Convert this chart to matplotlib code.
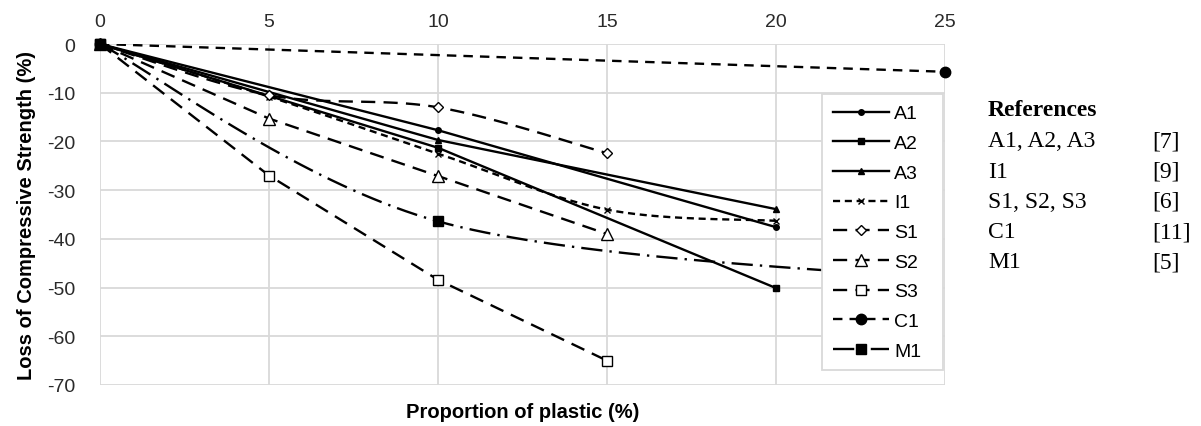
import numpy as np
import matplotlib
matplotlib.use("Agg")
import matplotlib.pyplot as plt
from matplotlib.lines import Line2D

# ---- data ----
a1_x = [0, 10, 20]
a1_y = [0, -17.7, -37.6]
a2_x = [0, 10, 20]
a2_y = [0, -21.3, -50.1]
a3_x = [0, 10, 20]
a3_y = [0, -19.7, -33.9]
i1_x = [0, 5, 10, 15, 20]
i1_y = [0, -10.8, -22.5, -34.0, -36.3]
s1_x = [0, 5, 10, 15]
s1_y = [0, -10.5, -13.0, -22.4]
s2_x = [0, 5, 10, 15]
s2_y = [0, -15.3, -27.1, -39.0]
s3_x = [0, 5, 10, 15]
s3_y = [0, -27.0, -48.4, -65.0]
c1_x = [0, 25]
c1_y = [0, -5.7]
m1_x = [0, 10, 25]
m1_y = [0, -36.4, -48.4]

x_ticks = [0, 5, 10, 15, 20, 25]
y_ticks = [0, -10, -20, -30, -40, -50, -60, -70]

ref_names = ["A1, A2, A3", "I1", "S1, S2, S3", "C1", "M1"]
ref_nums = ["[7]", "[9]", "[6]", "[11]", "[5]"]


def smooth(xs, ys, n=40):
    """Excel-style smoothed line (Catmull-Rom Bezier)."""
    P = np.column_stack([xs, ys]).astype(float)
    if len(P) < 3:
        return P[:, 0], P[:, 1]
    out = []
    m = len(P)
    for i in range(m - 1):
        p0 = P[max(i - 1, 0)]
        p1 = P[i]
        p2 = P[i + 1]
        p3 = P[min(i + 2, m - 1)]
        c1 = p1 + (p2 - p0) / 6.0
        c2 = p2 - (p3 - p1) / 6.0
        t = np.linspace(0, 1, n)[:, None]
        seg = ((1 - t) ** 3) * p1 + 3 * ((1 - t) ** 2) * t * c1 + 3 * (1 - t) * t ** 2 * c2 + t ** 3 * p2
        out.append(seg if i == 0 else seg[1:])
    out = np.vstack(out)
    return out[:, 0], out[:, 1]


plt.rcParams['font.family'] = ['Liberation Sans', 'DejaVu Sans']
plt.rcParams['axes.unicode_minus'] = False

fig = plt.figure(figsize=(12.01, 4.27), dpi=100)
ax = fig.add_axes([100 / 1201, 1 - 386 / 427, 845 / 1201, 341 / 427])

k = 'black'
lw = 1.7

series = []


def draw(xs, ys, label, ls, marker, ms, mfc, smooth_line=False, mew=1.0, markevery=None, z=3):
    if smooth_line:
        sx, sy = smooth(xs, ys)
    else:
        sx, sy = xs, ys
    ax.plot(sx, sy, color=k, lw=lw, linestyle=ls, zorder=z, clip_on=True)
    mx = xs if markevery is None else [xs[i] for i in markevery]
    my = ys if markevery is None else [ys[i] for i in markevery]
    ax.plot(mx, my, linestyle='none', marker=marker, ms=ms, mfc=mfc, mec=k, mew=mew, zorder=z + 1, clip_on=False)
    series.append(Line2D([0], [0], color=k, lw=lw, linestyle=ls, marker=marker, ms=ms, mfc=mfc, mec=k, mew=mew, label=label))


long_dash = (0, (6, 3.5))
draw(s3_x, s3_y, 'S3', long_dash, 's', 7.5, 'white')
draw(a1_x, a1_y, 'A1', '-', 'o', 4, k)
draw(a2_x, a2_y, 'A2', '-', 's', 4.5, k)
draw(a3_x, a3_y, 'A3', '-', '^', 4.5, k)
draw(i1_x, i1_y, 'I1', (0, (3, 2)), 'x', 5, k, smooth_line=True)
draw(s1_x, s1_y, 'S1', long_dash, 'D', 5, 'white', smooth_line=True)
draw(s2_x, s2_y, 'S2', long_dash, '^', 8, 'white')
draw(c1_x, c1_y, 'C1', (0, (4, 3)), 'o', 7.5, k)
draw(m1_x, m1_y, 'M1', (0, (9, 3, 1, 3)), 's', 6.5, k, smooth_line=True, markevery=[0, 1], z=5)

# legend order
order = ['A1', 'A2', 'A3', 'I1', 'S1', 'S2', 'S3', 'C1', 'M1']
handles = sorted(series, key=lambda h: order.index(h.get_label()))

ax.set_xlim(0, 25)
ax.set_ylim(-70, 0)
ax.set_xticks(x_ticks)
ax.set_yticks(y_ticks)
ax.xaxis.tick_top()
ax.tick_params(axis='both', length=0, labelsize=14, colors='#2a2a2a')
ax.tick_params(axis='x', pad=10)
ax.tick_params(axis='y', pad=18)
ax.grid(True, color='#d9d9d9', lw=1.3, zorder=0)
for s in ax.spines.values():
    s.set_visible(False)
ax.set_axisbelow(True)

ax.set_xlabel('Proportion of plastic (%)', fontsize=14.5, fontweight='bold')
ax.xaxis.set_label_position('bottom')
ax.xaxis.labelpad = 12
ax.set_ylabel('Loss of Compressive Strength (%)', fontsize=14.5, fontweight='bold', labelpad=8)

leg_left, leg_top, leg_w = 822 / 1201, 1 - 95 / 427, 121 / 1201
leg = ax.legend(handles=handles, loc='upper left', bbox_to_anchor=(leg_left, leg_top - 0.7, leg_w, 0.7),
                bbox_transform=fig.transFigure, mode='expand', fontsize=14, frameon=True, fancybox=False,
                edgecolor='#d9d9d9', framealpha=1, handlelength=2.9, handletextpad=0.25,
                labelspacing=0.62, borderpad=0.55, borderaxespad=0)
leg.set_zorder(10)
leg.get_frame().set_linewidth(1.3)

# References text
fig.text(988 / 1201, 1 - 110 / 427, 'References', fontfamily='Liberation Serif', fontweight='bold',
         fontsize=17, va='center', ha='left')
for i, (nm, num) in enumerate(zip(ref_names, ref_nums)):
    yy = 1 - (142 + i * 30.2) / 427
    fig.text(988 / 1201, yy, nm, fontfamily='Liberation Serif', fontsize=17, va='center', ha='left')
    fig.text(1152 / 1201, yy, num, fontfamily='Liberation Serif', fontsize=17, va='center', ha='left')

fig.savefig('out.png', dpi=100)
